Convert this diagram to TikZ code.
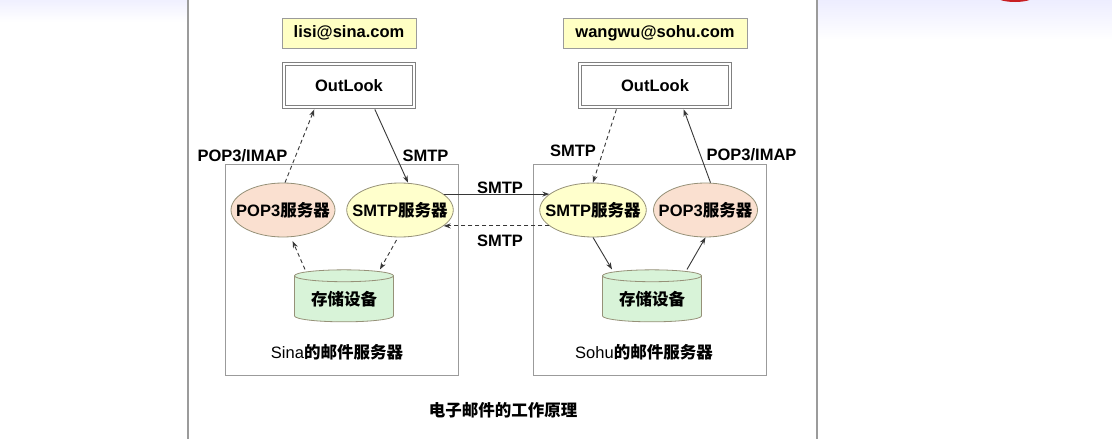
\documentclass[tikz,border=0pt]{standalone}
\usepackage{fontspec}
\setmainfont{Liberation Sans}
\newfontfamily\cjk{Noto Sans CJK SC}
\usepackage{tikz}
\usetikzlibrary{calc,positioning}
\usetikzlibrary{arrows.meta,shapes.geometric}
\definecolor{mailyellow}{RGB}{255,255,196}
\definecolor{popred}{RGB}{250,224,208}
\definecolor{smtpyellow}{RGB}{255,255,204}
\definecolor{storegreen}{RGB}{216,243,216}
\definecolor{rimgray}{RGB}{155,155,155}
\definecolor{ovalrim}{RGB}{150,145,120}
\definecolor{linegray}{RGB}{55,55,55}
\definecolor{slidered}{RGB}{200,30,35}
\newcommand{\zh}[1]{{\cjk\bfseries #1}}

\begin{document}
\begin{tikzpicture}[x=1pt,y=-1pt,
  every node/.style={font=\fontsize{16.5}{18}\selectfont\bfseries,text=black},
  mailbox/.style={draw=rimgray,fill=mailyellow,line width=1pt,minimum height=30pt,inner sep=0pt},
  clientbox/.style={draw=gray,double=white,double distance=1.6pt,line width=1.1pt,minimum height=43pt,inner sep=0pt},
  serverbox/.style={draw=rimgray,line width=0.8pt,minimum width=233pt,minimum height=211pt,inner sep=0pt},
  popnode/.style={ellipse,draw=ovalrim,fill=popred,line width=0.8pt,minimum width=104pt,minimum height=54pt,inner xsep=-10pt,inner ysep=0pt},
  smtpnode/.style={ellipse,draw=ovalrim,fill=smtpyellow,line width=0.8pt,minimum width=105pt,minimum height=54pt,inner xsep=-10pt,inner ysep=0pt},
  storenode/.style={cylinder,shape border rotate=90,aspect=0.18,draw=ovalrim,line width=0.8pt,
    cylinder uses custom fill,cylinder body fill=storegreen,cylinder end fill=storegreen,
    minimum width=99pt,minimum height=52pt,inner sep=0pt},
  flow/.style={-{Stealth[length=7pt,width=5pt]},draw=linegray,line width=0.9pt},
  flowdash/.style={flow,dash pattern=on 4pt off 3pt},
]
% \draw[color=gray,step=10pt,help lines,opacity=0.3] (0,0) grid (1112,439); %help grids
\useasboundingbox (0,0) rectangle (1112,439);
\fill[white] (0,0) rectangle (1112,439);
\shade[top color=blue!6,bottom color=white] (0,0) rectangle (188,22);
\shade[top color=blue!7,bottom color=white] (817,0) rectangle (1112,40);
\fill[slidered] (1015,-3) ellipse (18pt and 5pt);
\draw[rimgray,line width=2pt] (188,0)--(188,439);
\draw[rimgray,line width=2pt] (817,0)--(817,439);

% mail servers
\node[serverbox] (sina) at (341.5,269.5) {};
\node[serverbox] (sohu) at (649.5,270) {};

% users and clients
\node[mailbox,minimum width=134pt] (mail1) at (349,33) {lisi@sina.com};
\node[mailbox,minimum width=184pt] (mail2) at (655,33) {wangwu@sohu.com};
\node[clientbox,minimum width=130pt] (out1) at (349,85.5) {OutLook};
\node[clientbox,minimum width=150pt] (out2) at (655,85.5) {OutLook};

\node[popnode] (pop1) at (283,210) {POP3\zh{服务器}};
\node[smtpnode] (smtp1) at (400,210) {SMTP\zh{服务器}};
\node[smtpnode] (smtp2) at (593,210) {SMTP\zh{服务器}};
\node[popnode] (pop2) at (705.5,210) {POP3\zh{服务器}};
\node[storenode] (store1) at (344,299) {\zh{存储设备}};
\node[storenode] (store2) at (652,299) {\zh{存储设备}};

\node (sinalabel) at (337,352) {{\mdseries Sina}\zh{的邮件服务器}};
\node (sohulabel) at (644,352) {{\mdseries Sohu}\zh{的邮件服务器}};
\node (caption) at (503,410) {\zh{电子邮件的工作原理}};

% protocol labels
\node (popimapl) at (242.5,156) {POP3/IMAP};
\node (smtpl) at (425.5,156) {SMTP};
\node (smtpout) at (500,187.5) {SMTP};
\node (smtpback) at (500,241) {SMTP};
\node (smtpr) at (573,151) {SMTP};
\node (popimapr) at (751.5,155) {POP3/IMAP};

\draw[flowdash,shorten >=2pt] ([xshift=2pt]pop1.north)--([xshift=-34pt]out1.south);
\draw[flow,shorten <=2pt] ([xshift=25pt]out1.south)--([xshift=8pt]smtp1.north);
\draw[flow] (smtp1.20)--(smtp1.20 -| smtp2.160);
\draw[flowdash] (smtp2.200)--(smtp2.200 -| smtp1.340);
\draw[flowdash,shorten <=2pt] ([xshift=-38pt]out2.south)--(smtp2.north);
\draw[flow,shorten >=2pt] ([xshift=5pt]pop2.north)--([xshift=28pt]out2.south);
\draw[flowdash,shorten >=4pt] ([xshift=-39pt]store1.north)--([xshift=8pt]pop1.south);
\draw[flowdash,shorten <=3pt] ([xshift=-2pt]smtp1.south)--([xshift=36pt]store1.north);
\draw[flow] (smtp2.south)--([xshift=-40pt]store2.north);
\draw[flow] ([xshift=35pt]store2.north)--(pop2.south);

\end{tikzpicture}
\end{document}
